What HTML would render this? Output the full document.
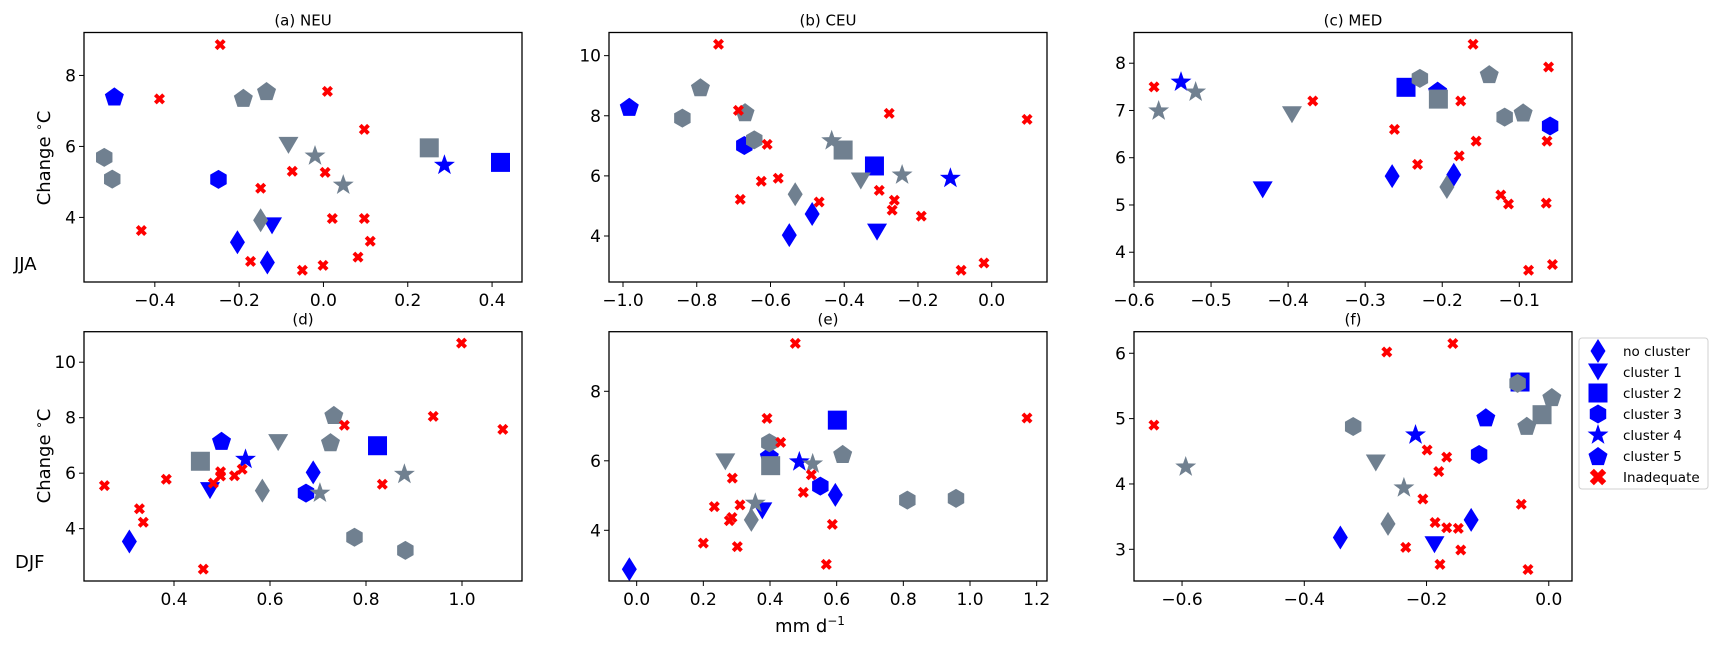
<!DOCTYPE html>
<html>
<head>
<meta charset="utf-8">
<style>
html,body{margin:0;padding:0;background:#fff;}
svg{display:block;font-family:"DejaVu Sans","Liberation Sans",sans-serif;}
</style>
</head>
<body>
<svg id="fig" width="1725" height="648" viewBox="0 0 1725 648" xmlns="http://www.w3.org/2000/svg">
  <text x="0" y="0" transform="translate(50,158) rotate(-90)" text-anchor="middle" font-size="18">Change <tspan font-size="12" dy="-7">∘</tspan><tspan dy="7">C</tspan></text>
  <text x="14" y="270" font-size="18">JJA</text>
  <text x="0" y="0" transform="translate(50,456) rotate(-90)" text-anchor="middle" font-size="18">Change <tspan font-size="12" dy="-7">∘</tspan><tspan dy="7">C</tspan></text>
  <text x="15" y="568" font-size="18">DJF</text>
  <text x="810" y="632" text-anchor="middle" font-size="18">mm d<tspan font-size="12" dy="-7">−1</tspan></text>
  <g id="panels"></g>
  <g id="legend"></g>
</svg>
<script>
// ---- data: marker codes d=no cluster, v=cluster1, s=cluster2, h=cluster3, *=cluster4, p=cluster5, x=inadequate
// colors: b=blue, g=gray, r=red
const aX = [-0.245,-0.389,0.0095,0.097,-0.074,0.004,-0.149,-0.432,0.021,0.097,0.111,-0.173,-0.050,-0.001,0.082,-0.496,-0.190,-0.135,-0.083,-0.020,0.047,0.251,0.287,0.42,-0.520,-0.501,-0.249,-0.149,-0.122,-0.204,-0.133];
const aY = [8.87,7.34,7.55,6.48,5.30,5.27,4.82,3.63,3.97,3.97,3.33,2.76,2.51,2.65,2.88,7.41,7.37,7.56,6.03,5.73,4.91,5.96,5.47,5.55,5.69,5.08,5.07,3.92,3.76,3.30,2.73];
const aM = ['x','x','x','x','x','x','x','x','x','x','x','x','x','x','x','p','p','p','v','*','*','s','*','s','h','h','h','d','v','d','d'];
const aC = ['r','r','r','r','r','r','r','r','r','r','r','r','r','r','r','b','g','g','g','g','g','g','b','b','g','g','b','g','b','b','b'];

const bX = [-0.741,-0.687,-0.278,-0.609,-0.579,-0.625,-0.682,-0.468,-0.305,-0.264,-0.270,-0.191,-0.083,-0.021,0.096,-0.983,-0.790,-0.669,-0.839,-0.644,-0.671,-0.434,-0.243,-0.403,-0.318,-0.355,-0.112,-0.533,-0.487,-0.549,-0.311];
const bY = [10.38,8.18,8.08,7.05,5.92,5.82,5.22,5.13,5.52,5.19,4.86,4.66,2.86,3.10,7.88,8.30,8.95,8.12,7.92,7.20,7.01,7.17,6.03,6.86,6.33,5.83,5.92,5.39,4.73,4.03,4.13];
const bM = ['x','x','x','x','x','x','x','x','x','x','x','x','x','x','x','p','p','p','h','h','h','*','*','s','s','v','*','d','d','d','v'];
const bC = ['r','r','r','r','r','r','r','r','r','r','r','r','r','r','r','b','g','g','g','g','b','g','g','g','b','g','b','g','b','b','b'];

const cX = [-0.574,-0.368,-0.262,-0.232,-0.160,-0.176,-0.062,-0.156,-0.064,-0.178,-0.124,-0.114,-0.065,-0.088,-0.057,-0.539,-0.520,-0.568,-0.395,-0.433,-0.265,-0.247,-0.229,-0.206,-0.205,-0.139,-0.119,-0.095,-0.060,-0.185,-0.194];
const cY = [7.50,7.20,6.60,5.86,8.40,7.20,7.92,6.35,6.35,6.04,5.21,5.02,5.04,3.62,3.74,7.60,7.39,6.99,6.91,5.32,5.61,7.49,7.68,7.42,7.24,7.77,6.86,6.96,6.67,5.64,5.38];
const cM = ['x','x','x','x','x','x','x','x','x','x','x','x','x','x','x','*','*','*','v','v','d','s','h','p','s','p','h','p','h','d','d'];
const cC = ['r','r','r','r','r','r','r','r','r','r','r','r','r','r','r','b','g','g','g','b','b','b','g','b','g','g','g','g','b','b','g'];

const dX = [0.255,0.328,0.336,0.384,0.461,0.482,0.497,0.497,0.526,0.542,0.755,0.834,0.940,0.999,1.085,0.455,0.475,0.499,0.549,0.617,0.584,0.733,0.726,0.690,0.675,0.704,0.880,0.824,0.776,0.882,0.307];
const dY = [5.55,4.72,4.23,5.78,2.54,5.64,6.05,5.90,5.91,6.14,7.73,5.60,8.05,10.69,7.58,6.43,5.37,7.17,6.50,7.10,5.37,8.10,7.12,6.03,5.28,5.28,5.96,6.99,3.69,3.22,3.54];
const dM = ['x','x','x','x','x','x','x','x','x','x','x','x','x','x','x','s','v','p','*','v','d','p','p','d','h','*','*','s','h','h','d'];
const dC = ['r','r','r','r','r','r','r','r','r','r','r','r','r','r','r','g','b','b','b','g','g','g','g','b','b','g','g','b','g','g','b'];

const eX = [0.476,0.391,0.432,0.287,0.233,0.310,0.286,0.278,0.200,0.302,0.524,0.500,0.587,0.569,1.171,0.266,0.398,0.402,0.398,0.488,0.528,0.356,0.344,0.377,0.551,0.596,-0.022,0.602,0.618,0.812,0.958];
const eY = [9.38,7.22,6.53,5.50,4.68,4.73,4.37,4.28,3.63,3.53,5.60,5.09,4.17,3.02,7.23,5.97,6.52,5.86,6.14,5.97,5.91,4.78,4.30,4.56,5.27,5.02,2.88,7.17,6.20,4.87,4.92];
const eM = ['x','x','x','x','x','x','x','x','x','x','x','x','x','x','x','v','h','s','p','*','*','*','d','v','h','d','d','s','p','h','h'];
const eC = ['r','r','r','r','r','r','r','r','r','r','r','r','r','r','r','g','g','g','b','b','g','g','g','b','b','b','b','b','g','g','g'];

const fX = [-0.646,-0.265,-0.157,-0.199,-0.167,-0.180,-0.206,-0.186,-0.167,-0.148,-0.234,-0.144,-0.178,-0.045,-0.034,-0.594,-0.237,-0.320,-0.283,-0.218,-0.187,-0.263,-0.341,-0.127,-0.114,-0.103,-0.047,-0.051,0.005,-0.036,-0.011];
const fY = [4.90,6.02,6.15,4.52,4.41,4.19,3.77,3.41,3.33,3.32,3.03,2.99,2.77,3.69,2.69,4.26,3.94,4.88,4.32,4.75,3.07,3.39,3.18,3.45,4.45,5.02,5.56,5.54,5.33,4.89,5.06];
const fM = ['x','x','x','x','x','x','x','x','x','x','x','x','x','x','x','*','*','h','v','*','v','d','d','d','h','p','s','h','p','p','s'];
const fC = ['r','r','r','r','r','r','r','r','r','r','r','r','r','r','r','g','g','g','g','b','b','g','b','b','b','b','b','g','g','g','g'];

const panelTitles = ['(a) NEU','(b) CEU','(c) MED','(d)','(e)','(f)'];
const xTicksA = [-0.4,-0.2,0.0,0.2,0.4], yTicksA = [4,6,8];
const xTicksB = [-1.0,-0.8,-0.6,-0.4,-0.2,0.0], yTicksB = [4,6,8,10];
const xTicksC = [-0.6,-0.5,-0.4,-0.3,-0.2,-0.1], yTicksC = [4,5,6,7,8];
const xTicksD = [0.4,0.6,0.8,1.0], yTicksD = [4,6,8,10];
const xTicksE = [0.0,0.2,0.4,0.6,0.8,1.0,1.2], yTicksE = [4,6,8];
const xTicksF = [-0.6,-0.4,-0.2,0.0], yTicksF = [3,4,5,6];
const legendLabels = ['no cluster','cluster 1','cluster 2','cluster 3','cluster 4','cluster 5','Inadequate'];
const legendMarkers = ['d','v','s','h','*','p','x'];

// ---- rendering
const NS = 'http://www.w3.org/2000/svg';
const COL = {b:'#0000ff', g:'#708090', r:'#ff0000'};
function mk(tag, attrs){ const e=document.createElementNS(NS,tag); for(const k in attrs) e.setAttribute(k,attrs[k]); return e; }
function poly(pts,cx,cy,s){ return pts.map(p=>(cx+p[0]*s).toFixed(2)+','+(cy+p[1]*s).toFixed(2)).join(' '); }
function regPoly(n,r,cx,cy,rot){ const a=[]; for(let i=0;i<n;i++){const t=rot+i*2*Math.PI/n; a.push([Math.cos(t),Math.sin(t)]);} return poly(a,cx,cy,r); }
function starPts(cx,cy,R,r){ const a=[]; for(let i=0;i<10;i++){const t=-Math.PI/2+i*Math.PI/5; const rr=i%2?r:R; a.push([Math.cos(t)*rr,Math.sin(t)*rr]);} return poly(a,cx,cy,1); }
const XP=[[-0.25,-0.5],[0,-0.25],[0.25,-0.5],[0.5,-0.25],[0.25,0],[0.5,0.25],[0.25,0.5],[0,0.25],[-0.25,0.5],[-0.5,0.25],[-0.25,0],[-0.5,-0.25]];
function marker(m,cx,cy,color,sc){
  sc = sc||1;
  let el;
  if(m==='d') el=mk('polygon',{points:poly([[0,-12],[7.5,0],[0,12],[-7.5,0]],cx,cy,sc)});
  else if(m==='v') el=mk('polygon',{points:poly([[-10,-8.5],[10,-8.5],[0,8.5]],cx,cy,sc)});
  else if(m==='s') el=mk('rect',{x:cx-9.5*sc,y:cy-9.5*sc,width:19*sc,height:19*sc});
  else if(m==='h') el=mk('polygon',{points:regPoly(6,9.5*sc,cx,cy,-Math.PI/2)});
  else if(m==='*') el=mk('polygon',{points:starPts(cx,cy,11*sc,4.4*sc)});
  else if(m==='p') el=mk('polygon',{points:regPoly(5,10*sc,cx,cy+1*sc,-Math.PI/2)});
  else el=mk('polygon',{points:poly(XP,cx,cy,11*sc)});
  el.setAttribute('fill',color);
  return el;
}
function fmt(v){ const s=(Math.abs(v)<1e-9?0:v).toFixed(1); return s.replace('-','\u2212'); }
function fmtInt(v){ return String(v).replace('-','\u2212'); }

const panels = [
  {x:aX,y:aY,m:aM,c:aC,box:[84,32.5,522,282],xd:[-0.568,0.471],yd:[2.18,9.21],xt:xTicksA,yt:yTicksA,dec:true},
  {x:bX,y:bY,m:bM,c:bC,box:[609,32.5,1047,282],xd:[-1.038,0.150],yd:[2.47,10.77],xt:xTicksB,yt:yTicksB,dec:true},
  {x:cX,y:cY,m:cM,c:cC,box:[1134,32.5,1572,282],xd:[-0.6,-0.0316],yd:[3.37,8.65],xt:xTicksC,yt:yTicksC,dec:true},
  {x:dX,y:dY,m:dM,c:dC,box:[84,331.7,522,581],xd:[0.2125,1.125],yd:[2.114,11.10],xt:xTicksD,yt:yTicksD,dec:true},
  {x:eX,y:eY,m:eM,c:eC,box:[609,331.7,1047,581],xd:[-0.083,1.231],yd:[2.541,9.715],xt:xTicksE,yt:yTicksE,dec:true},
  {x:fX,y:fY,m:fM,c:fC,box:[1134,331.7,1572,581],xd:[-0.6786,0.038],yd:[2.515,6.33],xt:xTicksF,yt:yTicksF,dec:true}
];
const root=document.getElementById('panels');
panels.forEach((P,pi)=>{
  const [L,T,R,B]=P.box;
  const sx=v=>L+(v-P.xd[0])/(P.xd[1]-P.xd[0])*(R-L);
  const sy=v=>B-(v-P.yd[0])/(P.yd[1]-P.yd[0])*(B-T);
  const g=mk('g',{});
  
  
  const title=mk('text',{x:(L+R)/2,y:T-7,'text-anchor':'middle','font-size':15});
  title.textContent=panelTitles[pi];
  
  
  g.appendChild(title);
  const clip=mk('clipPath',{id:'clip'+pi});
  clip.appendChild(mk('rect',{x:L,y:T,width:R-L,height:B-T}));
  g.appendChild(clip);
  const marks=mk('g',{'clip-path':'url(#clip'+pi+')'});
  
  
  ['b','g','r'].forEach(col=>{
    for(let i=0;i<P.x.length;i++){
      if(P.c[i]!==col) continue;
      const el=marker(P.m[i],sx(P.x[i]),sy(P.y[i]),COL[col]);
      
      
      marks.appendChild(el);
    }
  });
  g.appendChild(marks);
  const frame=mk('rect',{x:L,y:T,width:R-L,height:B-T,fill:'none',stroke:'#000','stroke-width':1.3});
  
  
  g.appendChild(frame);
  P.xt.forEach(v=>{
    const x=sx(v);
    g.appendChild(mk('line',{x1:x,y1:B,x2:x,y2:B+5,stroke:'#000','stroke-width':1}));
    const t=mk('text',{x:x,y:B+24,'text-anchor':'middle','font-size':17});
    t.textContent=fmt(v);
    
    
    g.appendChild(t);
  });
  P.yt.forEach(v=>{
    const y=sy(v);
    g.appendChild(mk('line',{x1:L-5,y1:y,x2:L,y2:y,stroke:'#000','stroke-width':1}));
    const t=mk('text',{x:L-8,y:y+6,'text-anchor':'end','font-size':17});
    t.textContent=fmtInt(v);
    
    
    g.appendChild(t);
  });
  root.appendChild(g);
});
// legend
const lg=document.getElementById('legend');


lg.appendChild(mk('rect',{x:1579,y:338,width:129,height:151,rx:3,fill:'#fff',stroke:'#d0d0d0','stroke-width':1}));
legendLabels.forEach((lab,i)=>{
  const cy=351+i*21;
  const e=mk('g',{});
  
  
  e.appendChild(marker(legendMarkers[i],1598,cy,legendMarkers[i]==='x'?COL.r:COL.b,legendMarkers[i]==='x'?1.5:1));
  const t=mk('text',{x:1623,y:cy+5,'font-size':13.5});
  t.textContent=lab;
  e.appendChild(t);
  lg.appendChild(e);
});
</script>
</body>
</html>
